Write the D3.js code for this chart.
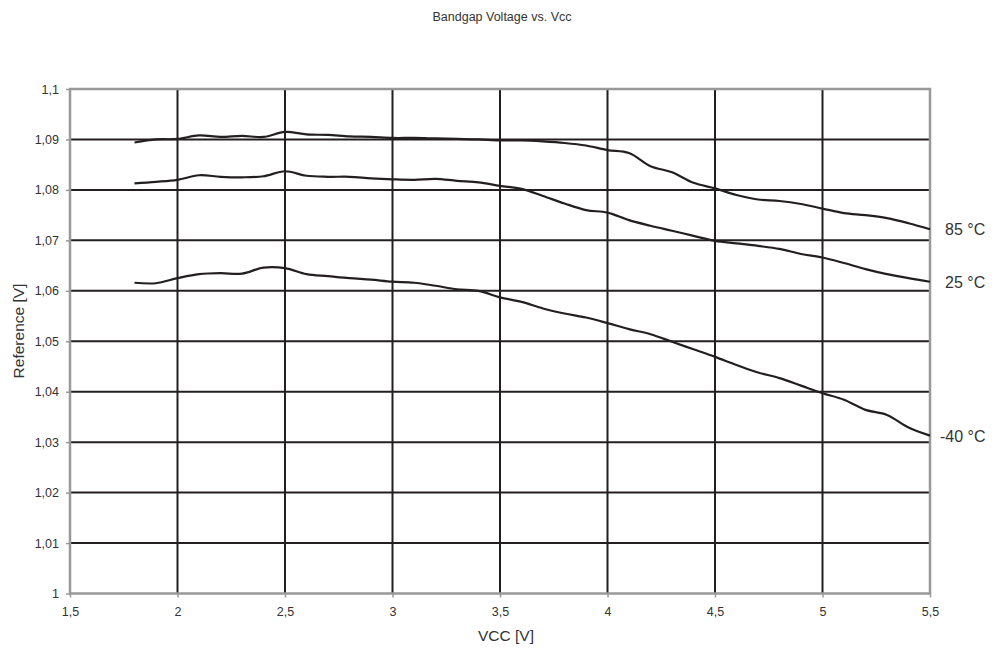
<!DOCTYPE html>
<html><head><meta charset="utf-8">
<script src="https://cdn.jsdelivr.net/npm/d3@7"></script>
<style>body{margin:0;background:#fff;} svg{display:block;font-family:"Liberation Sans",Arial,sans-serif;}</style>
</head><body>
<svg id="c" width="996" height="650"></svg>
<script>
const vcc = [1.8,1.9,2.0,2.1,2.2,2.3,2.4,2.5,2.6,2.7,2.8,2.9,3.0,3.1,3.2,3.3,3.4,3.5,3.6,3.7,3.8,3.9,4.0,4.1,4.2,4.3,4.4,4.5,4.6,4.7,4.8,4.9,5.0,5.1,5.2,5.3,5.4,5.5];
const ref85 = [1.0894,1.0900,1.0901,1.0908,1.0905,1.0907,1.0905,1.0915,1.0910,1.0909,1.0906,1.0905,1.0903,1.0903,1.0902,1.0901,1.0900,1.0898,1.0898,1.0896,1.0893,1.0888,1.0879,1.0873,1.0847,1.0835,1.0814,1.0803,1.0790,1.0781,1.0778,1.0772,1.0763,1.0754,1.0750,1.0744,1.0734,1.0722];
const ref25 = [1.0813,1.0816,1.0820,1.0829,1.0826,1.0825,1.0827,1.0837,1.0828,1.0826,1.0826,1.0823,1.0821,1.0820,1.0822,1.0818,1.0815,1.0808,1.0802,1.0788,1.0773,1.0760,1.0755,1.0740,1.0729,1.0719,1.0709,1.0699,1.0694,1.0689,1.0683,1.0673,1.0666,1.0655,1.0643,1.0633,1.0625,1.0618];
const refM40 = [1.0616,1.0615,1.0625,1.0633,1.0635,1.0634,1.0646,1.0645,1.0633,1.0629,1.0625,1.0622,1.0618,1.0616,1.0610,1.0603,1.0600,1.0587,1.0578,1.0565,1.0555,1.0547,1.0536,1.0524,1.0514,1.0499,1.0484,1.0469,1.0453,1.0438,1.0427,1.0412,1.0397,1.0384,1.0364,1.0354,1.0329,1.0313];
const seriesLabels = ["85 °C","25 °C","-40 °C"];
const xTicks = [1.5,2,2.5,3,3.5,4,4.5,5,5.5];
const yTicks = [1,1.01,1.02,1.03,1.04,1.05,1.06,1.07,1.08,1.09,1.1];
const title = "Bandgap Voltage vs. Vcc";
const xTitle = "VCC [V]";
const yTitle = "Reference [V]";

const svg = d3.select("#c");
const L=70, R=930, T=89, B=593.5;
const x = d3.scaleLinear().domain([1.5,5.5]).range([L,R]);
const y = d3.scaleLinear().domain([1.0,1.1]).range([B,T]);
const fmt = v => String(+v.toFixed(2)).replace(".", ",");
const grid="#231f20", axisC="#999999", txt="#333333";

// gridlines
svg.append("g").selectAll("line").data(yTicks.filter(v=>v>1 && v<1.1)).join("line")
  .attr("x1",L).attr("x2",R).attr("y1",d=>y(d)).attr("y2",d=>y(d))
  .attr("stroke",grid).attr("stroke-width",2);
svg.append("g").selectAll("line").data(xTicks.filter(v=>v>1.5 && v<5.5)).join("line")
  .attr("x1",d=>x(d)).attr("x2",d=>x(d)).attr("y1",T).attr("y2",B)
  .attr("stroke",grid).attr("stroke-width",2);

// frame
svg.append("rect").attr("x",L).attr("y",T).attr("width",R-L).attr("height",B-T)
  .attr("fill","none").attr("stroke",axisC).attr("stroke-width",2.5);

// axes
const xAxis = svg.append("g").attr("transform",`translate(0,${B})`)
  .call(d3.axisBottom(x).tickValues(xTicks).tickFormat(fmt).tickSize(4).tickPadding(10));
const yAxis = svg.append("g").attr("transform",`translate(${L},0)`)
  .call(d3.axisLeft(y).tickValues(yTicks).tickFormat(fmt).tickSize(4).tickPadding(7));
[xAxis,yAxis].forEach(g=>{
  g.select(".domain").remove();
  g.selectAll(".tick line").attr("stroke",axisC).attr("stroke-width",1.5);
  g.selectAll(".tick text").attr("fill",txt).attr("font-size",12.5).attr("font-family","Liberation Sans, Arial, sans-serif");
});

// lines
const line = d3.line().x((d,i)=>x(vcc[i])).y(d=>y(d)).curve(d3.curveCatmullRom.alpha(0.5));
const all=[ref85,ref25,refM40];
svg.append("g").selectAll("path").data(all).join("path")
  .attr("d",line).attr("fill","none").attr("stroke",grid).attr("stroke-width",2.2);

// series labels
svg.append("g").selectAll("text").data(all).join("text")
  .attr("x",(d,i)=> i===2 ? R+10 : R+15)
  .attr("y",d=>y(d[d.length-1])+6)
  .attr("font-size",16).attr("fill",txt)
  .text((d,i)=>seriesLabels[i]);

// titles
svg.append("text").attr("x",502).attr("y",21).attr("text-anchor","middle")
  .attr("font-size",12.5).attr("fill",txt).text(title);
svg.append("text").attr("x",506).attr("y",641).attr("text-anchor","middle")
  .attr("font-size",15.5).attr("fill",txt).text(xTitle);
svg.append("text").attr("transform","translate(24,331) rotate(-90)").attr("text-anchor","middle")
  .attr("font-size",15.5).attr("fill",txt).text(yTitle);
</script>
</body></html>
